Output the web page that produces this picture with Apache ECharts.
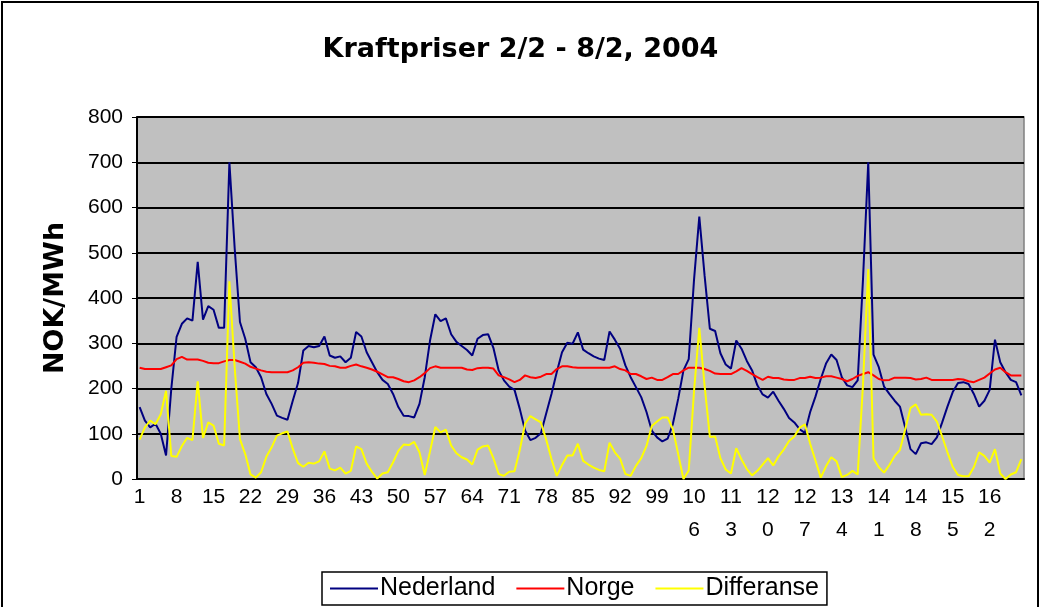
<!DOCTYPE html>
<html>
<head>
<meta charset="utf-8">
<title>Kraftpriser</title>
<script src="https://cdn.jsdelivr.net/npm/echarts@6/dist/echarts.min.js"></script>
<style>
  html, body {
    margin: 0;
    padding: 0;
    background: #fff;
  }
  #chart {
    width: 1041px;
    height: 607px;
  }
</style>
</head>
<body>
<div id="chart"></div>
<script>
// timer 1..168 (2/2 - 8/2 2004)
var hours = [];
for (var h = 1; h <= 168; h++) {
  hours.push(String(h));
}

// NOK/MWh
var nederland = [
  159, 129, 114, 122, 100, 52, 200, 314, 343, 355, 350, 480, 352, 382, 374, 334, 334, 700, 510, 347, 310,
  258, 247, 225, 188, 166, 140, 135, 131, 173, 212, 284, 294, 291, 294, 315, 273, 268, 271, 258, 268, 325,
  315, 280, 258, 236, 219, 210, 188, 159, 140, 139, 136, 166, 225, 306, 364, 349, 355, 320, 303, 294, 285,
  273, 310, 318, 320, 290, 240, 218, 204, 197, 155, 107, 86, 91, 101, 145, 188, 236, 280, 301, 299, 324,
  286, 278, 271, 266, 263, 326, 308, 288, 251, 225, 203, 181, 148, 107, 92, 83, 89, 122, 177, 240, 265,
  440, 580, 450, 332, 327, 278, 253, 244, 306, 288, 261, 240, 207, 187, 180, 193, 173, 155, 135, 125, 110,
  102, 148, 182, 221, 255, 275, 263, 225, 207, 203, 218, 440, 700, 275, 247, 204, 188, 173, 160, 114, 66,
  55, 79, 81, 77, 92, 125, 160, 192, 212, 214, 210, 188, 160, 173, 197, 308, 258, 236, 219, 214, 185
];

var norge = [
  246, 243, 243, 243, 243, 247, 251, 265, 270, 264, 264, 264, 261, 257, 256, 256, 260, 263, 263, 259, 255,
  248, 244, 240, 237, 236, 236, 236, 236, 240, 247, 257, 258, 257, 255, 254, 250, 249, 246, 246, 250, 253,
  249, 246, 242, 237, 231, 225, 225, 221, 216, 214, 218, 225, 234, 245, 249, 246, 246, 246, 246, 246, 242,
  241, 245, 246, 246, 244, 229, 225, 220, 214, 219, 229, 225, 223, 226, 232, 232, 243, 249, 249, 247, 246,
  246, 246, 246, 246, 246, 246, 249, 243, 240, 232, 232, 227, 221, 224, 219, 219, 225, 232, 232, 240, 246,
  246, 246, 243, 239, 233, 232, 232, 232, 238, 245, 239, 232, 225, 219, 226, 223, 223, 220, 219, 219, 223,
  223, 226, 223, 224, 227, 227, 224, 221, 216, 221, 228, 232, 236, 229, 221, 218, 219, 224, 224, 224, 223,
  220, 221, 224, 219, 219, 219, 219, 219, 221, 220, 216, 214, 219, 224, 233, 242, 246, 236, 229, 229, 229
];

var differanse = [
  87, 114, 129, 121, 143, 195, 51, 49, 73, 91, 86, 216, 91, 125, 118, 78, 74, 437, 247, 88, 55,
  10, 3, 15, 49, 70, 96, 101, 105, 67, 35, 27, 36, 34, 39, 61, 23, 19, 25, 12, 18, 72,
  66, 34, 16, 1, 12, 15, 37, 62, 76, 75, 82, 59, 9, 61, 115, 103, 109, 74, 57, 48, 43,
  32, 65, 72, 74, 46, 11, 7, 16, 17, 64, 122, 139, 132, 125, 87, 44, 7, 31, 52, 52, 78,
  40, 32, 25, 20, 17, 80, 59, 45, 11, 7, 29, 46, 73, 117, 127, 136, 136, 110, 55, 0, 19,
  194, 334, 207, 93, 94, 46, 21, 12, 68, 43, 22, 8, 18, 32, 46, 30, 50, 65, 84, 94, 113,
  121, 78, 41, 3, 28, 48, 39, 4, 9, 18, 10, 208, 464, 46, 26, 14, 31, 51, 64, 110, 157,
  165, 142, 143, 142, 127, 94, 59, 27, 9, 6, 6, 26, 59, 51, 36, 66, 12, 0, 10, 15, 44
];

var yTicks = [0, 100, 200, 300, 400, 500, 600, 700, 800];

var chart = echarts.init(document.getElementById('chart'));

chart.setOption({
  backgroundColor: '#fff',
  animation: false,
  title: {
    text: 'Kraftpriser 2/2 - 8/2, 2004',
    left: 'center',
    top: 31,
    textStyle: {
      fontFamily: 'DejaVu Sans',
      fontWeight: 'bold',
      fontSize: 27,
      color: '#000'
    }
  },
  // ramme rundt hele diagrammet
  graphic: [{
    type: 'rect',
    shape: { x: 2, y: 2, width: 1036, height: 650 },
    style: { fill: 'none', stroke: '#000', lineWidth: 2 },
    silent: true
  }],
  grid: {
    show: true,
    left: 137,
    right: 17,
    top: 117,
    bottom: 128,
    backgroundColor: '#c0c0c0',
    borderColor: '#808080',
    borderWidth: 1.5
  },
  legend: {
    bottom: 2,
    left: 322,
    data: ['Nederland', 'Norge', 'Differanse'],
    icon: 'rect',
    itemWidth: 48,
    itemHeight: 2,
    itemGap: 21,
    padding: [4, 8, 4, 8],
    borderColor: '#000',
    borderWidth: 1.5,
    backgroundColor: '#fff',
    textStyle: {
      fontFamily: 'Liberation Sans',
      fontSize: 25,
      color: '#000',
      padding: [0, 0, 0, -3]
    }
  },
  xAxis: {
    type: 'category',
    data: hours,
    boundaryGap: true,
    axisLine: {
      lineStyle: { color: '#000', width: 2 }
    },
    axisTick: {
      interval: 0,
      length: 6,
      lineStyle: { color: '#000', width: 1 }
    },
    axisLabel: {
      interval: 6,
      margin: 2,
      fontFamily: 'Liberation Sans',
      fontSize: 21,
      lineHeight: 33,
      color: '#000',
      formatter: function (v) {
        // tresifrede tall brytes over to linjer
        return v.length > 2 ? v.slice(0, 2) + '\n' + v.slice(2) : v;
      }
    },
    splitLine: { show: false }
  },
  yAxis: {
    type: 'value',
    min: yTicks[0],
    max: yTicks[yTicks.length - 1],
    interval: 100,
    name: 'NOK/MWh',
    nameLocation: 'middle',
    nameGap: 68,
    nameTextStyle: {
      fontFamily: 'DejaVu Sans',
      fontWeight: 'bold',
      fontSize: 27,
      color: '#000'
    },
    axisLine: {
      show: true,
      lineStyle: { color: '#000', width: 2 }
    },
    axisTick: {
      show: true,
      length: 5,
      lineStyle: { color: '#000', width: 1 }
    },
    axisLabel: {
      margin: 14,
      fontFamily: 'Liberation Sans',
      fontSize: 21,
      color: '#000'
    },
    splitLine: {
      lineStyle: { color: '#000', width: 2 }
    }
  },
  series: [{
    name: 'Nederland',
    type: 'line',
    data: nederland,
    symbol: 'none',
    lineStyle: { color: '#000080', width: 2 },
    itemStyle: { color: '#000080' }
  }, {
    name: 'Norge',
    type: 'line',
    data: norge,
    symbol: 'none',
    lineStyle: { color: '#ff0000', width: 2 },
    itemStyle: { color: '#ff0000' }
  }, {
    name: 'Differanse',
    type: 'line',
    data: differanse,
    symbol: 'none',
    lineStyle: { color: '#ffff00', width: 2 },
    itemStyle: { color: '#ffff00' }
  }]
});
</script>
</body>
</html>
